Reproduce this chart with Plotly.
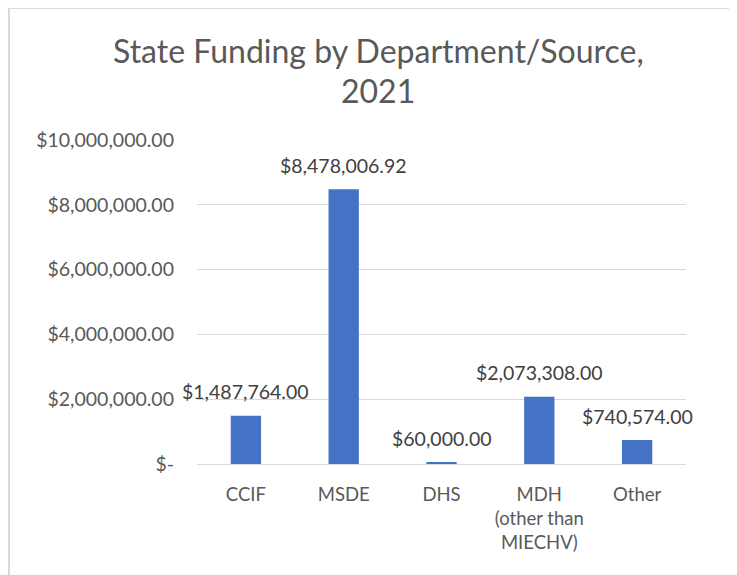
import plotly.graph_objects as go

categories = ["CCIF", "MSDE", "DHS", "MDH<br>(other than<br>MIECHV)", "Other"]
values = [1487764.00, 8478006.92, 60000.00, 2073308.00, 740574.00]
tick_vals = [0, 2000000, 4000000, 6000000, 8000000, 10000000]
tick_text = ["$-", "$2,000,000.00", "$4,000,000.00", "$6,000,000.00", "$8,000,000.00", "$10,000,000.00"]
title_lines = ["State Funding by Department/Source,", "2021"]

FONT = "Lato, Carlito, Calibri, sans-serif"

# page has an 8px body margin, so figure coords = screen coords - 8
W, H = 729, 567
L, R, T, B = 189, 678, 132, 456
pw, ph = R - L, B - T


def px_x(x):
    return (x - L) / pw


def px_y(y):
    return (B - y) / ph


fig = go.Figure()
fig.add_trace(go.Bar(
    x=categories, y=values,
    marker=dict(color="#4472C4", line=dict(width=0)),
    hoverinfo="x+y",
))

for c, v in zip(categories, values):
    fig.add_annotation(
        x=c, y=v, text="${:,.2f}".format(v), showarrow=False,
        yanchor="middle", yshift=24,
        font=dict(family=FONT, size=19.5, color="#404040"),
    )

for line, yc in zip(title_lines, [42, 82]):
    fig.add_annotation(
        xref="paper", yref="paper", x=px_x(370), y=px_y(yc), text=line,
        showarrow=False, xanchor="center", yanchor="middle",
        font=dict(family=FONT, size=32, color="#595959"),
    )

fig.add_shape(type="rect", xref="paper", yref="paper",
              x0=px_x(1), x1=px_x(740),
              y0=px_y(580), y1=px_y(0),
              line=dict(color="#D9D9D9", width=2), fillcolor="rgba(0,0,0,0)", layer="below")

fig.update_layout(
    width=W, height=H,
    margin=dict(l=L, r=W - R, t=T, b=H - B, pad=0, autoexpand=False),
    paper_bgcolor="white", plot_bgcolor="white",
    bargap=0.69,
    showlegend=False,
    font=dict(family=FONT, color="#595959"),
    xaxis=dict(type="category", range=[-0.5, len(categories) - 0.5], automargin=False,
               showline=True, linecolor="#D9D9D9", linewidth=1, ticks="", showgrid=False,
               tickfont=dict(family=FONT, size=18.5, color="#595959"), ticklabelstandoff=14),
    yaxis=dict(range=[0, 10000001], tickvals=tick_vals, ticktext=tick_text, automargin=False,
               showgrid=True, gridcolor="#D9D9D9", gridwidth=1, zeroline=False, showline=False,
               tickfont=dict(family=FONT, size=19.5, color="#595959"), ticklabelstandoff=22),
)

fig.write_html("out.html")
